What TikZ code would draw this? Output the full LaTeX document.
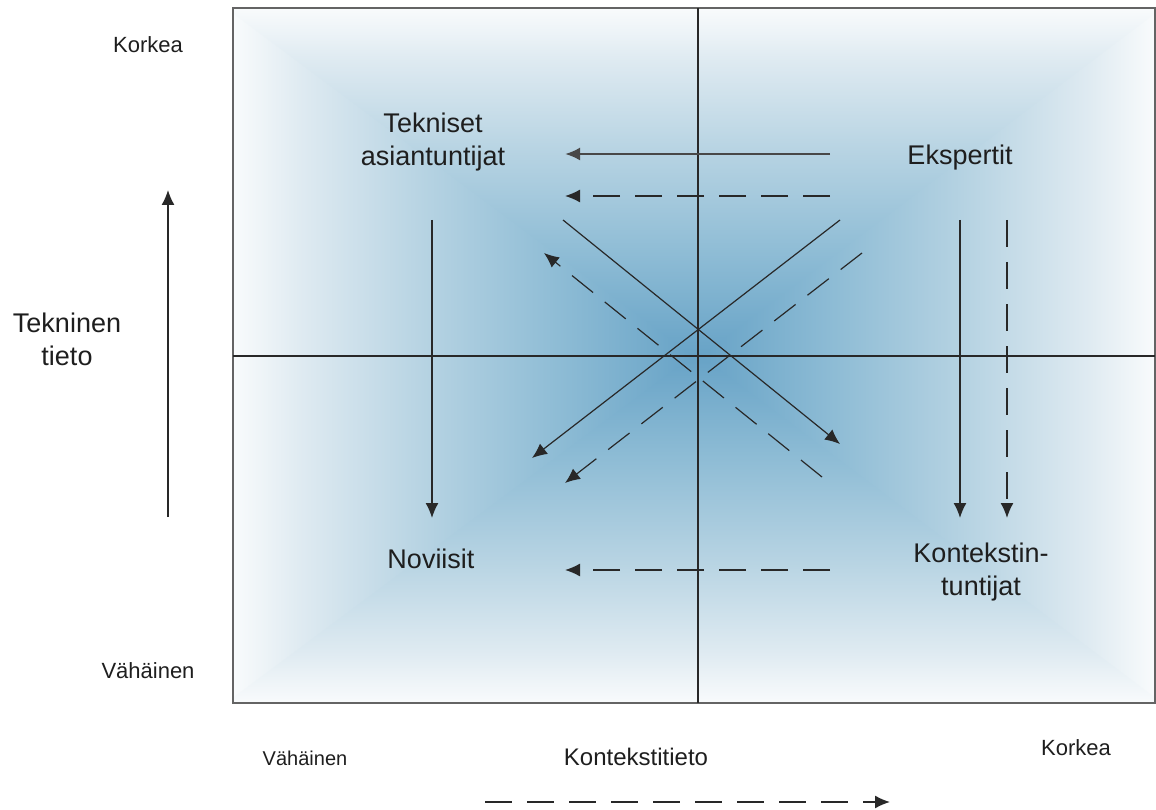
\documentclass[tikz,border=0pt]{standalone}
\usepackage{fontspec}
\setmainfont{Liberation Sans}
\usetikzlibrary{arrows.meta}

\definecolor{gc0}{RGB}{102,162,198}
\definecolor{gc1}{RGB}{142,188,213}
\definecolor{gc2}{RGB}{184,212,227}
\definecolor{gc3}{RGB}{222,234,241}
\definecolor{gc4}{RGB}{249,251,252}
\definecolor{ink}{RGB}{30,30,30}
\definecolor{rule}{RGB}{40,40,40}
\definecolor{frame}{RGB}{100,100,100}

% ramps: centre of the square -> white rim (stops 25bp..75bp span the path)
\pgfdeclareverticalshading{rimtop}{100bp}{color(0bp)=(gc0); color(25bp)=(gc0); color(40bp)=(gc1); color(55bp)=(gc2); color(67.5bp)=(gc3); color(75bp)=(gc4); color(100bp)=(gc4)}
\pgfdeclareverticalshading{rimbottom}{100bp}{color(0bp)=(gc4); color(25bp)=(gc4); color(32.5bp)=(gc3); color(45bp)=(gc2); color(60bp)=(gc1); color(75bp)=(gc0); color(100bp)=(gc0)}
\pgfdeclarehorizontalshading{rimleft}{100bp}{color(0bp)=(gc4); color(25bp)=(gc4); color(32.5bp)=(gc3); color(45bp)=(gc2); color(60bp)=(gc1); color(75bp)=(gc0); color(100bp)=(gc0)}
\pgfdeclarehorizontalshading{rimright}{100bp}{color(0bp)=(gc0); color(25bp)=(gc0); color(40bp)=(gc1); color(55bp)=(gc2); color(67.5bp)=(gc3); color(75bp)=(gc4); color(100bp)=(gc4)}

\tikzset{
  tip/.style={-{Latex[length=15pt,width=13pt]}},
  flow/.style={tip, draw=rule, line width=1.4pt},
  flowbold/.style={tip, draw=rule!85, line width=2.4pt},
  flowdash/.style={flow, dash pattern=on 27pt off 15pt},
  small/.style={text=ink, inner sep=0pt, anchor=base, font=\fontsize{22}{26}\selectfont},
  big/.style={text=ink, inner sep=0pt, anchor=base, align=center, font=\fontsize{27}{33}\selectfont},
}

\begin{document}
\begin{tikzpicture}[x=1pt, y=-1pt]
\useasboundingbox (0,0) rectangle (1156,810);

% shaded square, one ramp per side
\begin{scope}
  \clip (233,8) rectangle (1155,703);
  \shade[shading=rimleft]  (233,8) -- (697,356) -- (233,703) -- cycle;
  \shade[shading=rimright] (1155,8) -- (697,356) -- (1155,703) -- cycle;
  \shade[shading=rimtop]    (226,8) -- (1162,8) -- (697,359) -- cycle;
  \shade[shading=rimbottom] (226,703) -- (1162,703) -- (697,353) -- cycle;
\end{scope}

% frame and axes
\draw[frame, line width=2pt] (233,8) rectangle (1155,703);
\coordinate (vt) at (698,8);  \coordinate (vb) at (698,703);
\coordinate (hl) at (233,356); \coordinate (hr) at (1155,356);
\draw[rule, line width=1.6pt] (vt) -- (vb);
\draw[rule, line width=1.6pt] (hl) -- (hr);

% outer labels
\node[small] (hiL) at (148,53) {Korkea};
\node[small] (loL) at (148,678) {Vähäinen};
\node[big, anchor=north] (tech) at (67,313) {Tekninen\\tieto};
\node[small, font=\fontsize{20}{24}\selectfont] (loB) at (305,765) {Vähäinen};
\node[small, font=\fontsize{24}{28}\selectfont] (ctx) at (636,765) {Kontekstitieto};
\node[small] (hiB) at (1076,755) {Korkea};

% axis direction arrows
\coordinate (ya) at (168,517); \coordinate (yb) at (168,190);
\draw[flow] (ya) -- (yb);
\coordinate (xa) at (485,802); \coordinate (xb) at (890,802);
\draw[flowdash] (xa) -- (xb);

% quadrant names
\node[big, anchor=north] (tek) at (433,113) {Tekniset\\asiantuntijat};
\node[big] (eks) at (960,165) {Ekspertit};
\node[big] (nov) at (431,568) {Noviisit};
\node[big, anchor=north] (kon) at (981,543) {Kontekstin-\\tuntijat};

% horizontal flows
\coordinate (h1a) at (830,154); \coordinate (h1b) at (565,154);
\coordinate (h2a) at (830,196); \coordinate (h2b) at (565,196);
\coordinate (h3a) at (830,570); \coordinate (h3b) at (565,570);
\draw[flowbold] (h1a) -- (h1b);
\draw[flowdash] (h2a) -- (h2b);
\draw[flowdash] (h3a) -- (h3b);

% vertical flows
\coordinate (v1a) at (432,220); \coordinate (v1b) at (432,518);
\coordinate (v2a) at (960,220); \coordinate (v2b) at (960,518);
\coordinate (v3a) at (1007,220); \coordinate (v3b) at (1007,518);
\draw[flow] (v1a) -- (v1b);
\draw[flow] (v2a) -- (v2b);
\draw[flowdash] (v3a) -- (v3b);

% diagonal flows
\coordinate (d1a) at (563,220); \coordinate (d1b) at (840,444);
\coordinate (d2a) at (840,220); \coordinate (d2b) at (532,458);
\coordinate (d3a) at (822,477); \coordinate (d3b) at (544,253);
\coordinate (d4a) at (862,253); \coordinate (d4b) at (565,483);
\draw[flow, line width=1.2pt] (d1a) -- (d1b);
\draw[flow, line width=1.2pt] (d2a) -- (d2b);
\draw[flowdash, line width=1.2pt] (d3a) -- (d3b);
\draw[flowdash, line width=1.2pt] (d4a) -- (d4b);
\end{tikzpicture}
\end{document}
